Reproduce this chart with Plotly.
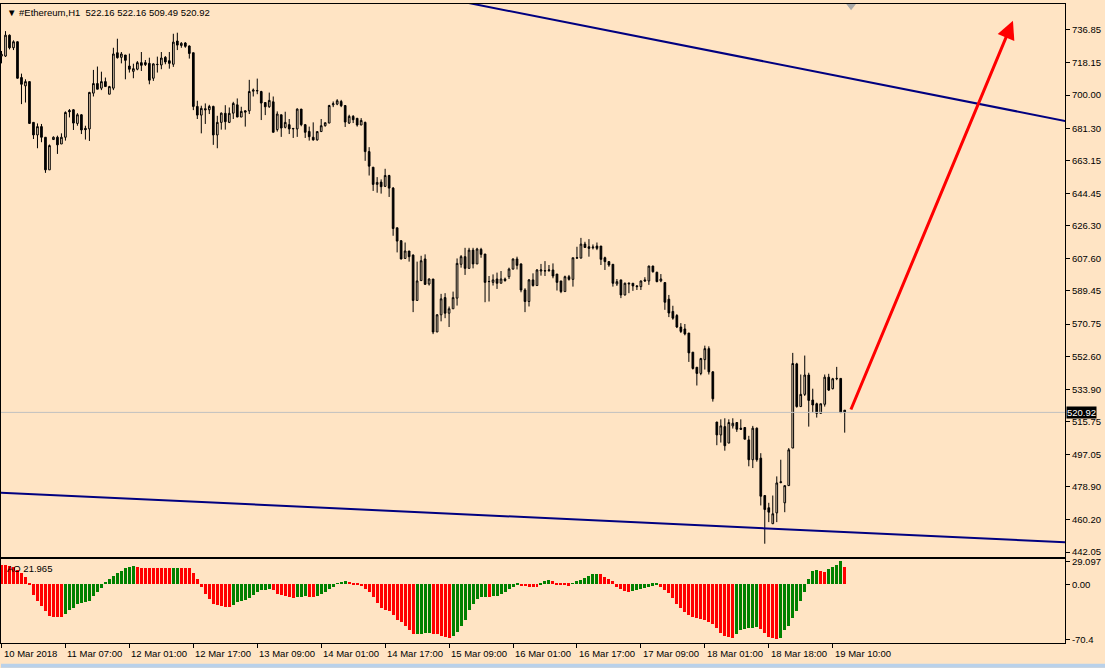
import plotly.graph_objects as go

BG = "#FFE4C4"
FONT = "Liberation Sans"

# ---------------- data ----------------
opens = [
722.0, 722.0, 733.8, 726.7, 730.1, 709.9, 705.2, 707.6, 684.6, 677.5,
682.2, 676.2, 657.8, 674.9, 676.2, 672.4, 676.2, 691.3, 691.7, 684.0,
688.9, 681.2, 680.9, 701.1, 706.5, 703.9, 707.6, 700.5, 703.9, 723.9,
721.3, 722.6, 716.4, 713.4, 714.6, 718.3, 718.3, 717.9, 709.5, 717.2,
717.0, 721.3, 719.4, 717.4, 730.5, 728.0, 729.4, 727.7, 723.9, 693.6,
688.7, 692.3, 691.7, 693.6, 677.5, 684.6, 689.7, 684.6, 689.8, 694.5,
687.6, 691.1, 691.1, 702.2, 702.4, 702.0, 695.8, 693.4, 696.2, 680.5,
688.9, 681.8, 683.3, 681.2, 680.9, 692.1, 683.3, 679.5, 676.2, 674.7,
679.4, 682.7, 684.2, 694.5, 694.9, 696.4, 694.1, 684.2, 688.0, 686.9,
683.1, 684.6, 668.1, 659.3, 649.6, 650.9, 648.5, 654.6, 647.5, 625.1,
617.8, 607.8, 612.0, 609.7, 584.1, 595.3, 607.5, 593.4, 596.2, 566.3,
576.0, 585.7, 576.9, 579.4, 585.4, 604.5, 608.8, 602.2, 612.5, 604.7,
612.9, 610.3, 594.7, 594.3, 596.2, 593.8, 596.2, 597.5, 601.8, 607.5,
604.7, 590.0, 583.5, 595.7, 592.5, 600.7, 600.7, 600.9, 601.3, 599.0,
595.1, 589.1, 597.5, 596.0, 608.0, 608.0, 615.9, 614.4, 613.8, 614.8,
614.8, 608.2, 606.0, 604.5, 593.4, 595.7, 587.2, 593.4, 593.8, 592.3,
591.9, 595.7, 595.1, 603.5, 600.0, 595.1, 594.2, 584.8, 577.9, 575.6,
569.1, 568.0, 565.7, 554.9, 546.4, 542.9, 550.7, 556.9, 543.8, 515.5,
508.2, 512.9, 503.6, 513.3, 515.2, 512.0, 512.4, 505.4, 494.2, 512.0,
495.1, 474.0, 467.1, 458.1, 464.2, 481.3, 469.9, 479.6, 500.8, 548.3,
524.2, 531.1, 542.0, 527.9, 525.8, 520.4, 525.5, 540.8, 534.3, 539.9,
540.1, 522.16]

highs = [
724.9, 736.1, 734.2, 730.9, 730.3, 712.1, 708.9, 707.6, 684.6, 684.0,
683.7, 676.2, 672.1, 676.7, 677.1, 678.4, 690.8, 692.1, 692.1, 689.8,
689.3, 682.7, 701.8, 714.2, 716.1, 713.2, 709.9, 705.2, 726.7, 731.8,
724.3, 722.6, 723.4, 717.7, 719.2, 724.3, 719.8, 721.1, 717.9, 721.7,
724.3, 722.0, 724.3, 734.6, 735.2, 729.9, 729.9, 728.0, 723.9, 696.8,
694.0, 695.3, 694.5, 694.0, 688.3, 690.2, 694.3, 693.0, 696.2, 698.1,
693.4, 691.5, 708.6, 703.7, 709.3, 702.4, 695.8, 701.4, 699.2, 690.8,
688.9, 690.6, 686.5, 681.4, 692.5, 692.1, 683.7, 682.2, 684.6, 679.4,
686.5, 684.4, 694.5, 696.4, 697.7, 697.3, 694.1, 688.9, 688.7, 686.9,
687.0, 685.0, 670.6, 659.3, 653.7, 652.4, 658.4, 655.0, 648.1, 625.1,
618.1, 616.8, 612.0, 610.1, 606.0, 609.3, 610.1, 596.6, 596.2, 576.4,
587.8, 588.2, 580.7, 589.1, 607.8, 609.7, 613.8, 613.8, 613.8, 613.8,
613.8, 610.3, 597.9, 598.8, 599.8, 600.7, 597.0, 602.6, 607.8, 608.8,
605.0, 591.0, 596.2, 599.4, 601.8, 604.7, 606.3, 604.1, 605.0, 599.0,
595.1, 598.1, 598.5, 608.2, 614.4, 619.4, 617.2, 618.7, 615.7, 616.8,
614.8, 608.8, 606.3, 604.5, 596.2, 595.7, 594.2, 594.2, 593.8, 592.8,
595.3, 597.2, 603.7, 603.7, 600.3, 599.0, 594.2, 587.2, 581.1, 576.4,
571.3, 570.8, 565.7, 554.9, 546.4, 551.7, 558.6, 558.2, 544.2, 515.5,
517.0, 517.6, 517.0, 517.6, 515.5, 517.0, 512.4, 507.7, 513.3, 512.4,
497.9, 474.0, 469.9, 474.0, 484.8, 494.2, 479.6, 500.8, 554.5, 548.9,
542.3, 553.0, 543.3, 534.3, 526.4, 525.8, 542.3, 542.7, 540.4, 546.6,
540.1, 522.16]

lows = [
717.9, 721.5, 725.8, 725.4, 709.3, 694.9, 695.8, 683.7, 675.2, 670.0,
673.4, 656.1, 657.8, 674.7, 666.8, 672.4, 674.3, 687.4, 680.3, 682.7,
678.0, 674.9, 674.1, 699.2, 703.3, 702.8, 704.8, 700.5, 702.8, 720.6,
717.9, 708.9, 712.7, 709.5, 714.0, 713.6, 716.4, 706.1, 708.0, 712.7,
714.6, 717.4, 714.9, 715.9, 725.4, 726.7, 726.7, 720.6, 691.5, 686.5,
678.4, 683.7, 689.3, 671.9, 670.0, 680.5, 680.5, 684.2, 686.5, 687.6,
687.6, 682.2, 689.3, 699.2, 700.5, 685.9, 688.7, 692.8, 679.0, 679.4,
676.4, 681.2, 678.0, 675.8, 676.4, 682.4, 675.8, 674.3, 674.3, 674.3,
679.4, 682.2, 684.2, 693.2, 694.3, 693.2, 682.0, 683.7, 684.2, 682.2,
683.1, 662.9, 654.6, 645.9, 644.9, 644.4, 648.1, 642.5, 620.6, 611.2,
607.3, 607.8, 606.0, 577.5, 584.1, 595.3, 592.8, 592.5, 565.1, 566.3,
572.3, 574.1, 569.1, 579.4, 581.2, 602.6, 598.5, 602.2, 602.2, 604.7,
608.2, 583.1, 583.5, 592.5, 590.6, 593.8, 594.7, 596.2, 601.6, 601.6,
588.7, 577.5, 580.7, 591.9, 592.5, 598.1, 597.9, 600.3, 596.6, 589.7,
588.2, 589.1, 595.3, 591.9, 607.5, 607.8, 614.0, 608.8, 612.9, 612.5,
604.1, 601.3, 603.1, 591.9, 592.3, 585.4, 586.9, 588.2, 589.5, 590.0,
590.0, 594.7, 592.9, 599.8, 594.4, 594.4, 578.8, 574.7, 573.2, 568.5,
565.7, 564.4, 549.4, 545.1, 536.1, 541.9, 545.1, 542.3, 527.0, 502.4,
503.9, 499.3, 503.6, 511.8, 509.9, 511.0, 505.8, 490.5, 489.5, 493.1,
468.4, 446.8, 459.0, 458.1, 459.0, 480.9, 464.6, 479.6, 500.8, 523.6,
524.2, 530.2, 512.9, 520.8, 518.0, 520.4, 524.2, 533.0, 533.9, 539.1,
520.8, 509.49]

closes = [
723.0, 733.8, 726.7, 730.1, 709.5, 706.1, 707.6, 684.0, 677.5, 682.2,
676.2, 657.8, 671.5, 676.2, 671.9, 676.2, 690.2, 690.6, 684.2, 688.9,
680.3, 680.5, 701.5, 706.5, 703.3, 707.6, 704.8, 704.8, 723.2, 721.1,
723.2, 719.6, 714.6, 714.9, 718.3, 716.8, 717.2, 708.4, 717.6, 717.3,
720.9, 718.7, 717.9, 729.9, 728.2, 729.2, 727.5, 723.5, 693.6, 688.7,
692.5, 691.7, 693.6, 677.5, 684.6, 689.8, 685.0, 689.7, 695.3, 687.6,
690.8, 690.4, 702.0, 702.8, 702.5, 695.5, 693.4, 697.0, 679.0, 689.3,
681.4, 684.6, 680.9, 681.0, 692.1, 683.3, 679.0, 676.5, 674.7, 679.4,
682.7, 684.4, 694.1, 695.1, 696.8, 694.0, 684.8, 688.0, 686.1, 683.1,
685.7, 668.1, 659.9, 649.6, 650.7, 648.3, 654.6, 647.5, 624.7, 617.6,
607.5, 612.0, 608.8, 584.1, 595.1, 606.5, 593.2, 596.2, 566.3, 576.0,
585.0, 576.9, 579.4, 585.7, 605.0, 608.8, 602.2, 612.5, 604.7, 613.1,
610.1, 594.3, 594.8, 595.7, 593.8, 596.2, 595.3, 601.8, 607.5, 603.9,
590.0, 583.5, 595.7, 592.5, 601.3, 601.3, 600.9, 601.3, 597.9, 594.3,
589.1, 597.5, 596.0, 608.2, 608.2, 615.9, 614.0, 613.5, 614.2, 613.5,
607.3, 606.0, 604.1, 593.8, 594.7, 587.2, 593.8, 593.8, 592.3, 591.9,
595.1, 595.1, 603.5, 600.3, 594.7, 596.2, 583.1, 577.0, 574.1, 569.1,
566.6, 565.2, 554.5, 545.7, 542.9, 551.3, 556.9, 543.8, 528.6, 508.2,
513.3, 502.1, 515.2, 514.8, 511.4, 511.4, 505.8, 494.2, 512.0, 494.2,
473.6, 466.1, 464.6, 463.7, 481.1, 481.7, 479.6, 499.8, 548.5, 524.2,
531.1, 542.0, 527.7, 525.1, 520.4, 525.8, 540.8, 533.5, 539.9, 540.1,
520.8, 520.92]

ao_values = [
24.3, 24.1, 22.5, 21.2, 18.0, 14.4, 8.6, -1.4, -14.0, -21.6,
-28.4, -34.2, -41.0, -41.9, -42.1, -42.3, -38.7, -32.9, -30.6, -26.1,
-23.9, -22.5, -21.6, -14.9, -10.4, -5.0, 1.8, 6.8, 9.9, 13.5,
16.7, 19.8, 22.1, 22.3, 21.2, 20.8, 20.4, 20.3, 20.2, 20.1,
20.0, 19.9, 19.8, 20.1, 20.3, 20.2, 20.0, 19.8, 14.4, 6.8,
-3.6, -12.6, -19.4, -25.2, -27.5, -28.4, -29.3, -29.5, -27.0, -23.0,
-21.6, -20.3, -18.5, -14.0, -10.4, -8.1, -7.2, -6.8, -8.1, -12.6,
-14.0, -15.8, -17.1, -18.0, -17.1, -16.2, -15.8, -16.2, -16.7, -15.3,
-13.1, -10.4, -6.8, -3.6, 0.5, 2.3, 3.2, 2.8, -0.5, -1.4,
-2.7, -5.9, -10.4, -17.1, -23.9, -30.6, -32.9, -35.1, -39.6, -46.4,
-48.6, -53.1, -58.9, -64.5, -64.0, -63.6, -63.3, -63.0, -63.5, -64.5,
-66.0, -68.0, -68.5, -66.5, -60.8, -53.1, -45.5, -32.9, -26.1, -19.4,
-17.1, -16.5, -16.8, -15.8, -15.3, -12.6, -10.4, -5.9, -3.6, -1.4,
-2.7, -3.2, -3.6, -4.1, -4.5, -0.5, 3.2, 4.5, 3.6, -0.5,
-1.4, -1.8, -2.3, 0.5, 3.2, 5.4, 7.7, 9.9, 12.2, 12.6,
12.2, 8.6, 6.8, 3.2, -3.6, -6.8, -9.5, -10.4, -9.5, -8.1,
-5.9, -5.0, -3.6, -2.3, -1.8, -3.6, -7.2, -11.7, -18.5, -25.2,
-30.6, -36.5, -39.6, -42.8, -44.1, -44.6, -46.4, -48.6, -50.9, -56.3,
-62.1, -66.6, -68.0, -68.9, -63.5, -59.0, -57.6, -56.3, -55.8, -55.4,
-57.6, -62.1, -68.0, -69.5, -70.4, -69.0, -59.0, -54.0, -44.1, -35.1,
-21.6, -10.4, 6.8, 16.7, 18.0, 16.7, 15.8, 18.9, 21.2, 24.3,
29.097, 21.965]

price_ticks = [736.85, 718.15, 700.00, 681.30, 663.15, 644.45, 626.30, 607.60,
               589.45, 570.75, 552.60, 533.90, 515.75, 497.05, 478.90, 460.20, 442.05]
ao_ticks = [29.097, 0.0, -70.4]
ao_tick_text = ["29.097", "0.00", "-70.4"]
time_tick_bars = [0, 16, 32, 48, 64, 80, 96, 112, 128, 144, 160, 176, 192, 208]
time_labels = ["10 Mar 2018", "11 Mar 07:00", "12 Mar 01:00", "12 Mar 17:00",
               "13 Mar 09:00", "14 Mar 01:00", "14 Mar 17:00", "15 Mar 09:00",
               "16 Mar 01:00", "16 Mar 17:00", "17 Mar 09:00", "18 Mar 01:00",
               "18 Mar 18:00", "19 Mar 10:00"]

# drawn objects (bar index, price)
upper_line_x = [100.0, 270.0]
upper_line_y = [759.5, 683.7]
lower_line_x = [-1.0, 270.0]
lower_line_y = [475.7, 447.2]
arrow_from = (212.4, 521.7)
arrow_to = (253.1, 741.9)
shift_marker = (212.6, 750.4)

symbol = "#Ethereum,H1"
n = len(closes)
idx = list(range(n))
last_close = closes[-1]

ao_colors = ["#FF0000"]
for i in range(1, n):
    ao_colors.append("#008000" if ao_values[i] > ao_values[i - 1] else "#FF0000")

fig = go.Figure()
fig.add_trace(go.Candlestick(
    x=idx, open=opens, high=highs, low=lows, close=closes,
    xaxis="x", yaxis="y", whiskerwidth=0,
    increasing=dict(line=dict(color="black", width=1), fillcolor=BG),
    decreasing=dict(line=dict(color="black", width=1), fillcolor="black"),
    hoverinfo="skip", showlegend=False))
fig.add_trace(go.Scatter(x=upper_line_x, y=upper_line_y, mode="lines",
                         line=dict(color="#000080", width=2), xaxis="x", yaxis="y",
                         hoverinfo="skip", showlegend=False))
fig.add_trace(go.Scatter(x=lower_line_x, y=lower_line_y, mode="lines",
                         line=dict(color="#000080", width=2), xaxis="x", yaxis="y",
                         hoverinfo="skip", showlegend=False))
fig.add_trace(go.Scatter(x=[shift_marker[0]], y=[shift_marker[1]], mode="markers",
                         marker=dict(symbol="triangle-down", size=9, color="#A9A9A9"),
                         xaxis="x", yaxis="y", hoverinfo="skip", showlegend=False))
fig.add_trace(go.Bar(x=idx, y=ao_values, marker=dict(color=ao_colors, line=dict(width=0)),
                     width=0.75, xaxis="x2", yaxis="y2", hoverinfo="skip", showlegend=False))

xr = [-0.125, 266.125]
axis_font = dict(family=FONT, size=9.5, color="black")

fig.update_layout(
    width=1105, height=668,
    margin=dict(l=0, r=40, t=1, b=25),
    paper_bgcolor=BG, plot_bgcolor=BG,
    font=axis_font,
    bargap=0,
    boxgap=0.4,
    xaxis=dict(domain=[0, 1], anchor="y", range=xr, showticklabels=False, ticks="",
               showline=True, mirror=True, linecolor="black", linewidth=1,
               showgrid=False, zeroline=False, rangeslider=dict(visible=False)),
    yaxis=dict(domain=[0.134, 1], anchor="x", range=[439.1, 751.4], side="right",
               tickvals=price_ticks, ticktext=[f"{v:.2f}" for v in price_ticks],
               ticks="outside", ticklen=4, tickcolor="black", tickfont=axis_font,
               showline=True, mirror=True, linecolor="black", linewidth=1,
               showgrid=False, zeroline=False),
    xaxis2=dict(domain=[0, 1], anchor="y2", range=xr, tickvals=time_tick_bars,
                showticklabels=False, ticks="outside", ticklen=4, tickcolor="black",
                showline=True, mirror=True, linecolor="black", linewidth=1,
                showgrid=False, zeroline=False),
    yaxis2=dict(domain=[0, 0.1308], anchor="x2", range=[-74.9, 31.75], side="right",
                tickvals=ao_ticks, ticktext=ao_tick_text, ticks="outside", ticklen=4,
                tickcolor="black", tickfont=axis_font,
                showline=True, mirror=True, linecolor="black", linewidth=1,
                showgrid=False, zeroline=False),
)

# current price line and label
fig.add_shape(type="line", xref="x domain", yref="y", x0=0, x1=1,
              y0=last_close, y1=last_close, line=dict(color="#C0C0C0", width=1))
fig.add_annotation(xref="paper", yref="y", x=1, y=last_close, xanchor="left",
                   xshift=1, text=f"{last_close:.2f}", showarrow=False,
                   bgcolor="black", font=dict(family=FONT, size=9.5, color="white"),
                   borderpad=0)

# header
fig.add_annotation(xref="paper", yref="paper", x=0, y=1, xanchor="left", yanchor="top",
                   xshift=4, yshift=-1, showarrow=False, align="left",
                   text=f"\u25BC {symbol}  {opens[-1]:.2f} {highs[-1]:.2f} {lows[-1]:.2f} {closes[-1]:.2f}",
                   font=dict(family=FONT, size=9.5, color="black"))
fig.add_annotation(xref="paper", yref="y2 domain", x=0, y=1, xanchor="left", yanchor="top",
                   xshift=4, yshift=-2, showarrow=False,
                   text=f"AO {ao_values[-1]:.3f}",
                   font=dict(family=FONT, size=9.5, color="black"))

# time labels
for b, lab in zip(time_tick_bars, time_labels):
    fig.add_annotation(xref="x2", yref="paper", x=b, y=0, xanchor="left", yanchor="top",
                       xshift=0, yshift=-3, showarrow=False, text=lab,
                       font=dict(family=FONT, size=9.5, color="black"))

# red arrow
fig.add_annotation(xref="x", yref="y", axref="x", ayref="y",
                   x=arrow_to[0], y=arrow_to[1], ax=arrow_from[0], ay=arrow_from[1],
                   showarrow=True, arrowhead=2, arrowsize=1.2, arrowwidth=3,
                   arrowcolor="#FF0000", text="")

# window bottom strip
fig.add_shape(type="rect", xref="paper", yref="paper", x0=0, x1=1.04, y0=-0.0389, y1=-0.0325,
              fillcolor="#B9D1EA", line=dict(width=0))

fig.write_html("out.html", config={"displayModeBar": False},
               post_script="document.body.style.margin='0px';document.body.style.overflow='hidden';")
